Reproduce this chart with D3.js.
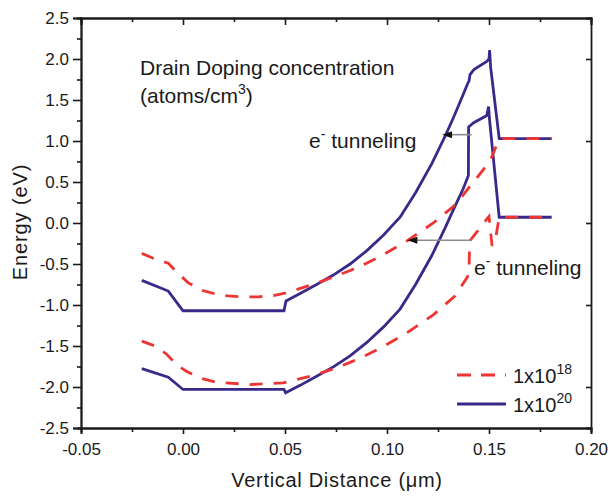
<!DOCTYPE html>
<html>
<head>
<meta charset="utf-8">
<script src="https://cdn.jsdelivr.net/npm/d3@7"></script>
<style>
  body { margin: 0; background: #ffffff; }
  svg { display: block; }
  text { font-family: "Liberation Sans", Arial, Helvetica, sans-serif; fill: #1a1a1a; }
</style>
</head>
<body>
<svg id="chart" width="608" height="496"></svg>
<script>
// Axis ticks
const xTicks = [-0.05, 0.00, 0.05, 0.10, 0.15, 0.20];
const xTickLabels = ["-0.05", "0.00", "0.05", "0.10", "0.15", "0.20"];
const xMinorTicks = [-0.025, 0.025, 0.075, 0.125, 0.175];
const yTicks = [-2.5, -2.0, -1.5, -1.0, -0.5, 0.0, 0.5, 1.0, 1.5, 2.0, 2.5];
const yTickLabels = ["-2.5", "-2.0", "-1.5", "-1.0", "-0.5", "0.0", "0.5", "1.0", "1.5", "2.0", "2.5"];
const yMinorTicks = [-2.25, -1.75, -1.25, -0.75, -0.25, 0.25, 0.75, 1.25, 1.75, 2.25];
const yRightTicks = [-2, -1, 0, 1, 2];

// Band edges [distance (µm), energy (eV)]
// Drain doping 1x10^20: conduction band
const cb20 = [
  [-0.0202, -0.70], [-0.0072, -0.83], [0.0000, -1.07], [0.0495, -1.07], [0.0505, -0.95],
  [0.0574, -0.86], [0.0655, -0.75], [0.0737, -0.635], [0.0819, -0.50], [0.0900, -0.34],
  [0.0982, -0.15], [0.1064, 0.07], [0.1140, 0.37], [0.1219, 0.72], [0.1285, 1.06],
  [0.1325, 1.28], [0.1374, 1.57], [0.1397, 1.71], [0.1402, 1.73], [0.1407, 1.81],
  [0.1426, 1.87], [0.1489, 1.97], [0.1500, 2.00], [0.1503, 2.11], [0.1508, 1.90],
  [0.1550, 1.03], [0.1807, 1.03]
];
// Drain doping 1x10^20: valence band
const vb20 = [
  [-0.0202, -1.775], [-0.0072, -1.88], [0.0000, -2.03], [0.0495, -2.03], [0.0503, -2.07],
  [0.0574, -1.98], [0.0655, -1.87], [0.0737, -1.755], [0.0819, -1.62], [0.0900, -1.46],
  [0.0982, -1.27], [0.1064, -1.05], [0.1140, -0.75], [0.1219, -0.40], [0.1285, -0.06],
  [0.1325, 0.16], [0.1374, 0.42], [0.1399, 0.58], [0.1400, 1.17], [0.1423, 1.22],
  [0.1489, 1.31], [0.1498, 1.42], [0.1503, 1.25], [0.1550, 0.07], [0.1807, 0.07]
];
// Drain doping 1x10^18: conduction band
const cb18 = [
  [-0.0202, -0.37], [-0.0146, -0.43], [-0.0072, -0.49], [-0.0030, -0.60], [0.0026, -0.73],
  [0.0092, -0.82], [0.0165, -0.87], [0.0222, -0.89], [0.0296, -0.90], [0.0370, -0.90],
  [0.0443, -0.885], [0.0500, -0.855], [0.0623, -0.76], [0.0737, -0.66], [0.0819, -0.58],
  [0.0900, -0.49], [0.0980, -0.39], [0.1103, -0.21], [0.1227, 0.00], [0.1325, 0.20],
  [0.1370, 0.33], [0.1407, 0.45], [0.1440, 0.55], [0.1472, 0.65], [0.1513, 0.80],
  [0.1545, 1.00], [0.1560, 1.03], [0.1807, 1.03]
];
// Drain doping 1x10^18: valence band
const vb18 = [
  [-0.0202, -1.44], [-0.0137, -1.50], [-0.0080, -1.60], [-0.0030, -1.73], [0.0018, -1.81],
  [0.0083, -1.89], [0.0160, -1.94], [0.0328, -1.97], [0.0490, -1.95], [0.0623, -1.87],
  [0.0737, -1.78], [0.0819, -1.70], [0.0900, -1.61], [0.0980, -1.51], [0.1103, -1.33],
  [0.1227, -1.12], [0.1333, -0.89], [0.1394, -0.66], [0.1402, -0.60], [0.1405, -0.22],
  [0.1450, -0.08], [0.1490, 0.05], [0.1500, 0.08], [0.1515, -0.28], [0.1535, -0.15],
  [0.1550, 0.07], [0.1807, 0.07]
];

// Tunneling arrows: [from x, to x, energy]
const tunnelArrows = [
  [0.1415, 0.1270, 1.077],
  [0.1415, 0.1100, -0.21]
];

const legendLabels = [["1x10", "18"], ["1x10", "20"]];

const RED = "#ef3434";
const BLUE = "#392a8a";

const svg = d3.select("#chart");
svg.append("rect").attr("width", 608).attr("height", 496).attr("fill", "#ffffff");

const x = d3.scaleLinear().domain([-0.05, 0.20]).range([81, 591]);
const y = d3.scaleLinear().domain([-2.5, 2.5]).range([428, 18]);

const axisColor = "#1a1a1a";

// Left axis: labelled major ticks and minor ticks, outward
const axLeft = svg.append("g").attr("transform", `translate(${x.range()[0]},0)`);
axLeft.call(d3.axisLeft(y).tickValues(yTicks).tickSize(8).tickPadding(4)
  .tickFormat((d, i) => yTickLabels[i]));
axLeft.append("g").call(d3.axisLeft(y).tickValues(yMinorTicks).tickSize(4).tickFormat(""));

// Bottom axis
const axBottom = svg.append("g").attr("transform", `translate(0,${y.range()[0]})`);
axBottom.call(d3.axisBottom(x).tickValues(xTicks).tickSize(6).tickPadding(9)
  .tickFormat((d, i) => xTickLabels[i]));
axBottom.append("g").call(d3.axisBottom(x).tickValues(xMinorTicks).tickSize(4).tickFormat(""));

// Top axis: inward ticks, no labels
const axTop = svg.append("g").attr("transform", `translate(0,${y.range()[1]})`);
axTop.call(d3.axisTop(x).tickValues(xTicks).tickSize(-7).tickFormat(""));
axTop.append("g").call(d3.axisTop(x).tickValues(xMinorTicks).tickSize(-4).tickFormat(""));

// Right axis: inward ticks at whole eV
const axRight = svg.append("g").attr("transform", `translate(${x.range()[1]},0)`);
axRight.call(d3.axisRight(y).tickValues(yRightTicks).tickSize(-5).tickFormat(""));

svg.selectAll(".domain").attr("stroke", axisColor).attr("stroke-width", 1.8);
svg.selectAll(".tick line").attr("stroke", axisColor).attr("stroke-width", 1.6);
svg.selectAll(".tick text")
  .style("font-family", '"Liberation Sans", Arial, sans-serif')
  .style("font-size", "17px").attr("fill", "#1a1a1a");

// Curves
const line = d3.line().x(d => x(d[0])).y(d => y(d[1]));
const plot = svg.append("g");

[cb20, vb20].forEach(s => {
  plot.append("path").datum(s).attr("d", line)
    .attr("fill", "none").attr("stroke", BLUE).attr("stroke-width", 2.8)
    .attr("stroke-linejoin", "miter").attr("stroke-miterlimit", 3);
});
[cb18, vb18].forEach(s => {
  plot.append("path").datum(s).attr("d", line)
    .attr("fill", "none").attr("stroke", RED).attr("stroke-width", 2.8)
    .attr("stroke-dasharray", "13,11");
});

// Tunneling arrows
tunnelArrows.forEach(a => {
  plot.append("line")
    .attr("x1", x(a[0])).attr("x2", x(a[1]) + 9)
    .attr("y1", y(a[2])).attr("y2", y(a[2]))
    .attr("stroke", "#8c8c8c").attr("stroke-width", 1.6);
  plot.append("path")
    .attr("d", `M${x(a[1])},${y(a[2])} l10,-3.5 l0,7 Z`)
    .attr("fill", "#111");
});

// Annotations
const note = svg.append("g").style("font-size", "21px");
note.append("text").attr("x", 140).attr("y", 75).text("Drain Doping concentration");
const units = note.append("text").attr("x", 140).attr("y", 103);
units.append("tspan").text("(atoms/cm");
units.append("tspan").attr("dy", -9).style("font-size", "14px").text("3");
units.append("tspan").attr("dy", 9).text(")");

function tunnelLabel(tx, ty) {
  const t = note.append("text").attr("x", tx).attr("y", ty);
  t.append("tspan").text("e");
  t.append("tspan").attr("dy", -9).style("font-size", "14px").text("-");
  t.append("tspan").attr("dy", 9).text(" tunneling");
}
tunnelLabel(309, 148);
tunnelLabel(474, 275);

// Legend
const legend = svg.append("g");
const legendY = [375, 404];
legend.append("line").attr("x1", 457).attr("x2", 506).attr("y1", legendY[0]).attr("y2", legendY[0])
  .attr("stroke", RED).attr("stroke-width", 2.8).attr("stroke-dasharray", "14,10");
legend.append("line").attr("x1", 457).attr("x2", 506).attr("y1", legendY[1]).attr("y2", legendY[1])
  .attr("stroke", BLUE).attr("stroke-width", 2.8);
legendLabels.forEach((lab, i) => {
  const t = legend.append("text").attr("x", 513).attr("y", legendY[i] + 8).style("font-size", "20px");
  t.append("tspan").text(lab[0]);
  t.append("tspan").attr("dy", -9).style("font-size", "14px").text(lab[1]);
});

// Axis titles
svg.append("text").attr("x", 337).attr("y", 487).attr("text-anchor", "middle")
  .style("font-size", "20px").style("letter-spacing", "0.7px").text("Vertical Distance (μm)");
svg.append("text").attr("transform", "translate(27,222) rotate(-90)").attr("text-anchor", "middle")
  .style("font-size", "20px").style("letter-spacing", "0.9px").text("Energy (eV)");
</script>
</body>
</html>
